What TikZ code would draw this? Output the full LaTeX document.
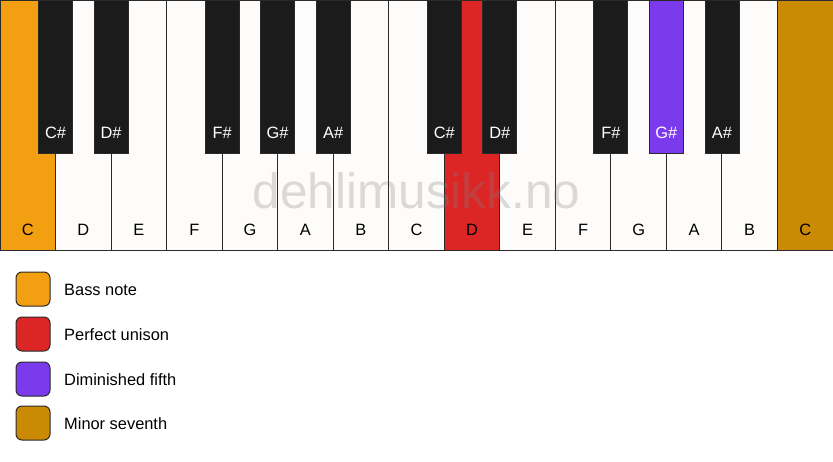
\documentclass[tikz,border=0pt]{standalone}
\usepackage{fontspec}
\setmainfont{Liberation Sans}
\definecolor{keywhite}{HTML}{FDFCFA}
\definecolor{keyblack}{HTML}{1B1B1B}
\definecolor{keyedge}{HTML}{2A2A2A}
\definecolor{bassc}{HTML}{F39F12}
\definecolor{unisonc}{HTML}{DC2626}
\definecolor{dimc}{HTML}{7C3AED}
\definecolor{minc}{HTML}{CA8A04}
\begin{document}
\begin{tikzpicture}[x=1pt,y=-1pt,
  whitekey/.style={draw=keyedge,line width=1pt,fill=keywhite,minimum width=55.53pt,minimum height=250pt,inner sep=0pt,outer sep=0pt,anchor=north west,text=black,font=\fontsize{16.4}{18}\selectfont},
  blackkey/.style={draw=keyedge,line width=0.8pt,fill=keyblack,minimum width=34pt,minimum height=153pt,inner sep=0pt,outer sep=0pt,anchor=north,text=white,font=\fontsize{16.4}{18}\selectfont},
  legbox/.style={draw=keyedge,line width=1pt,rounded corners=6pt,minimum width=34pt,minimum height=34pt,inner sep=0pt,anchor=center},
  legtext/.style={anchor=west,inner sep=0pt,font=\fontsize{16.4}{18}\selectfont,text=black},
  klabel/.style={inner sep=0pt,font=\fontsize{16.4}{18}\selectfont}
]
\useasboundingbox[fill=white] (0,0) rectangle (833,461);
% white keys
\foreach \i/\n/\c in {0/C/bassc,1/D/keywhite,2/E/keywhite,3/F/keywhite,4/G/keywhite,5/A/keywhite,6/B/keywhite,7/C/keywhite,8/D/unisonc,9/E/keywhite,10/F/keywhite,11/G/keywhite,12/A/keywhite,13/B/keywhite,14/C/minc}{
  \node[whitekey,fill=\c] (w\i) at (\i*55.533,0) {};
  \node[klabel] (wl\i) at ([yshift=20pt]w\i.south) {\n};
}
% watermark
\node[font=\fontsize{49.5}{52}\selectfont,text=gray,opacity=0.28,inner sep=0pt] (wm) at (416.5,191) {dehlimusikk.no};
% black keys
\foreach \i/\n/\c in {1/C\#/keyblack,2/D\#/keyblack,4/F\#/keyblack,5/G\#/keyblack,6/A\#/keyblack,8/C\#/keyblack,9/D\#/keyblack,11/F\#/keyblack,12/G\#/dimc,13/A\#/keyblack}{
  \node[blackkey,fill=\c] (b\i) at (\i*55.533,0) {};
  \node[klabel,text=white] (bl\i) at ([yshift=20pt]b\i.south) {\n};
}
% legend
\node[legbox,fill=bassc] (l1) at (33,289) {};
\node[legtext] (t1) at (64,289.5) {Bass note};
\node[legbox,fill=unisonc] (l2) at (33,334) {};
\node[legtext] (t2) at (64,334.5) {Perfect unison};
\node[legbox,fill=dimc] (l3) at (33,379) {};
\node[legtext] (t3) at (64,379.5) {Diminished fifth};
\node[legbox,fill=minc] (l4) at (33,423) {};
\node[legtext] (t4) at (64,423.5) {Minor seventh};
\end{tikzpicture}
\end{document}
